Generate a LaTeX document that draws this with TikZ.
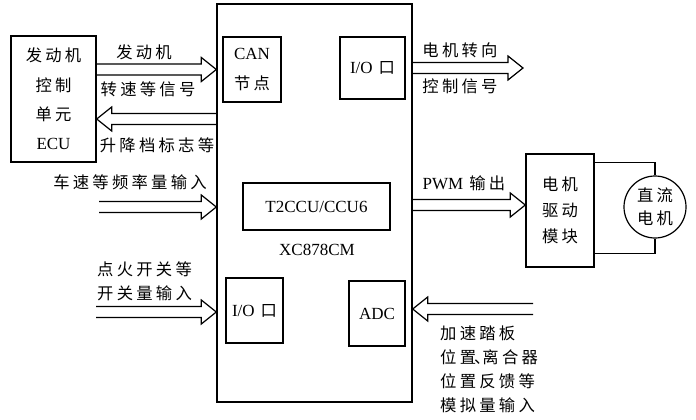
\documentclass[tikz,border=0pt]{standalone}
\usepackage{fontspec}
\setmainfont{Liberation Serif}
\newfontfamily\cjk[LetterSpace=20,Scale=0.96]{Noto Sans CJK SC}
\usetikzlibrary{calc}

\newcommand{\zh}[1]{{\cjk #1}}
% hollow (outlined) arrow between two points at the same height
\newcommand{\hollowarrow}[2]{%
  \draw[fatarrow] let \p1=(#1), \p2=(#2), \n1={ifthenelse(\x2>\x1,1,-1)} in
    (\x1,\y1+5.5pt) -- ({\x2-15pt*\n1},\y1+5.5pt) -- ({\x2-15pt*\n1},\y1+12pt)
    -- (\x2,\y1) -- ({\x2-15pt*\n1},\y1-12pt) -- ({\x2-15pt*\n1},\y1-5.5pt)
    -- (\x1,\y1-5.5pt);}

\begin{document}
\begin{tikzpicture}[
  x=1pt, y=-1pt,
  font=\fontsize{17}{20}\selectfont,
  block/.style={draw, line width=1.4pt, inner sep=0pt, align=center},
  fatarrow/.style={line width=1.2pt, line join=miter},
  wire/.style={line width=1.3pt},
  lbl/.style={inner sep=0pt},
]
\useasboundingbox (0,0) rectangle (696,420);

% controller and its inner units
\node[block, minimum width=195pt, minimum height=398pt] (mcu) at (314.5,203) {};
\node[block, minimum width=58pt, minimum height=65pt,
      font=\fontsize{17}{30}\selectfont] (can) at (252,69.5) {CAN\\\zh{节点}};
\node[block, minimum width=65pt, minimum height=62pt] (ioout) at (372.5,68) {I/O\hspace{6pt}\zh{口}};
\node[block, minimum width=147pt, minimum height=47pt] (t2ccu) at (316.5,206.5) {T2CCU/CCU6};
\node[block, minimum width=57pt, minimum height=65pt] (ioin) at (254.5,310.5) {I/O\hspace{6pt}\zh{口}};
\node[block, minimum width=56pt, minimum height=65pt] (adc) at (377,313.5) {ADC};
\node[lbl] (mcuname) at (317,250) {XC878CM};

% ECU, driver and motor
\node[block, minimum width=85pt, minimum height=126pt,
      font=\fontsize{17}{29.3}\selectfont] (ecu) at (53.5,99)
      {\zh{发动机}\\\zh{控制}\\\zh{单元}\\ECU};
\node[block, minimum width=68pt, minimum height=113pt,
      font=\fontsize{17}{26}\selectfont] (drv) at (560,210.5)
      {\zh{电机}\\\zh{驱动}\\\zh{模块}};
\node[block, circle, minimum size=62pt, line width=1.2pt,
      font=\fontsize{17}{23}\selectfont] (motor) at (655,207)
      {\zh{直流}\\\zh{电机}};
\draw[wire] ([yshift=-9pt]drv.north east) -| (motor.north);
\draw[wire] ([yshift=14pt]drv.south east) -| (motor.south);

% free ends of the signal arrows
\coordinate (gear) at (0,119);
\coordinate (spdin) at (99,207);
\coordinate (ignin) at (96,312);
\coordinate (dirout) at (523,68);
\coordinate (pwm) at (0,205);
\coordinate (anain) at (533,309);

\hollowarrow{ecu.east |- can}{mcu.west |- can}
\hollowarrow{mcu.west |- gear}{ecu.east |- gear}
\hollowarrow{spdin}{mcu.west |- spdin}
\hollowarrow{ignin}{mcu.west |- ignin}
\hollowarrow{mcu.east |- dirout}{dirout}
\hollowarrow{mcu.east |- pwm}{drv.west |- pwm}
\hollowarrow{anain}{mcu.east |- anain}

% signal labels
\node[lbl] (l1) at (144,52) {\zh{发动机}};
\node[lbl] (l2) at (148,89) {\zh{转速等信号}};
\node[lbl] (l3) at (157,145) {\zh{升降档标志等}};
\node[lbl] (l4) at (130,182) {\zh{车速等频率量输入}};
\node[lbl, anchor=west, align=left, font=\fontsize{17}{24}\selectfont] (l5) at (97,281)
  {\zh{点火开关等}\\\zh{开关量输入}};
\node[lbl] (l6) at (460,50) {\zh{电机转向}};
\node[lbl] (l7) at (460,86) {\zh{控制信号}};
\node[lbl] (l8) at (464,183) {PWM\hspace{6pt}\zh{输出}};
\node[lbl, anchor=west, align=left, font=\fontsize{17}{24}\selectfont] (l9) at (440,369)
  {\zh{加速踏板}\\\zh{位置}\kern-2pt\zh{、}\kern-8pt\zh{离合器}\\\zh{位置反馈等}\\\zh{模拟量输入}};
\end{tikzpicture}
\end{document}
